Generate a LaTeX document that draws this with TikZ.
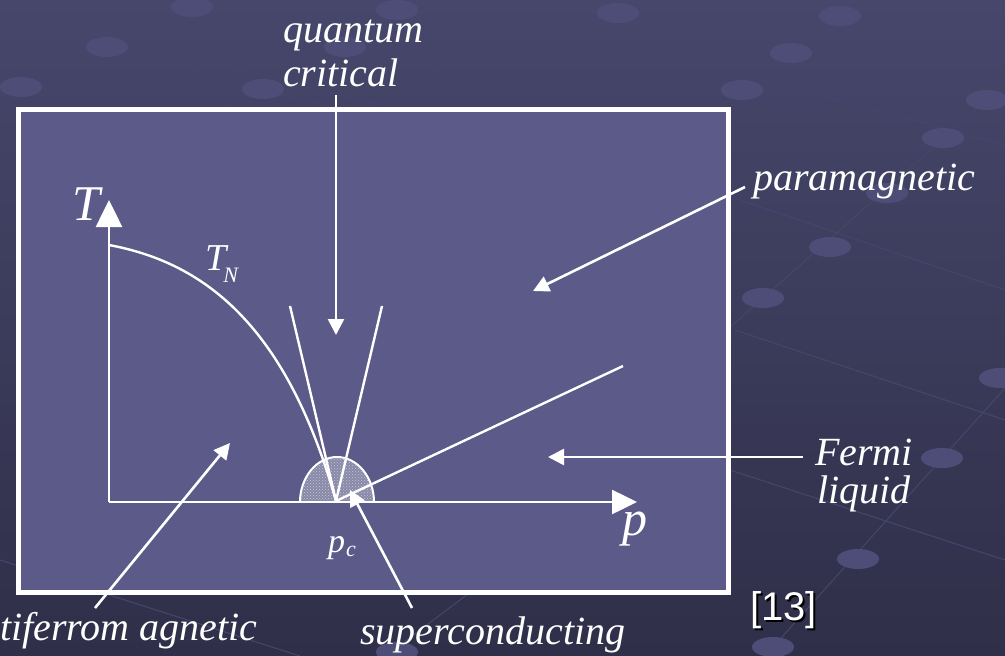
\documentclass[tikz,border=0pt]{standalone}
\usepackage{fontspec}
\setmainfont{Liberation Serif}
\newfontfamily\arialfont{Liberation Sans}
\usetikzlibrary{arrows.meta,patterns}
\definecolor{boxfill}{HTML}{5B5A89}
\definecolor{bgtop}{HTML}{47476C}
\definecolor{bgbot}{HTML}{2F2F49}
\definecolor{dotc}{HTML}{4D4D77}
\definecolor{latline}{HTML}{46466C}
\definecolor{domefill}{HTML}{8888A8}
\definecolor{domedot}{HTML}{C8C8DA}
\begin{document}
\begin{tikzpicture}[x=1pt,y=-1pt,
  lbl/.style={text=white,inner sep=0pt,anchor=base west,font=\fontsize{40}{44}\selectfont\itshape},
  wline/.style={white,line width=2.6pt},
  warrow/.style={wline,-{Triangle[length=16pt,width=16pt]}},
  lat/.style={latline,line width=1pt},
  dotell/.style={fill=dotc}]
\useasboundingbox (0,0) rectangle (1005,656);
\shade[top color=bgtop,bottom color=bgbot] (0,0) rectangle (1005,656);
% background lattice
\draw[lat] (-10,102) -- (215,-4);
\draw[lat] (220,111) -- (440,-2);
\draw[lat] (720,107) -- (870,-7);
\draw[lat] (728,329) -- (1005,84);
\draw[lat] (765,656) -- (1005,388);
\draw[lat] (380,660) -- (480,585);
\draw[lat] (0,12) -- (380,105);
\draw[lat] (60,35) -- (330,107);
\draw[lat] (150,-4) -- (520,93);
\draw[lat] (745,75) -- (1005,145);
\draw[lat] (740,200) -- (1005,290);
\draw[lat] (735,330) -- (1005,420);
\draw[lat] (730,470) -- (1005,560);
\draw[lat] (0,560) -- (300,656);
\foreach \px/\py in {192/7,107/47,21/87,263/89,345/47,397/10,618/13,840/16,791/53,742/90,987/100,943/138,887/193,830/247,763/298,1000/378,942/458,858/559,773/647,397/652}
  \fill[dotell] (\px,\py) ellipse [x radius=21pt,y radius=10pt];
% main box
\draw[white,line width=5pt,fill=boxfill] (18,109) rectangle (728,592);
% dome (superconducting region)
\fill[domefill] (300,502) .. controls (300,477) and (317,457) .. (337,457) .. controls (357,457) and (374,477) .. (374,502) -- cycle;
\fill[pattern=crosshatch dots,pattern color=domedot] (300,502) .. controls (300,477) and (317,457) .. (337,457) .. controls (357,457) and (374,477) .. (374,502) -- cycle;
\draw[white,line width=2pt] (300,502) .. controls (300,477) and (317,457) .. (337,457) .. controls (357,457) and (374,477) .. (374,502);
% coordinates
\coordinate (O) at (109,502);
\coordinate (Ttip) at (109,200);
\coordinate (ptip) at (637,502);
\coordinate (qcp) at (336,501);
\coordinate (TNs) at (109,245);
\coordinate (fanL) at (290,306);
\coordinate (fanR) at (382,306);
\coordinate (xover) at (623,366);
\coordinate (qcS) at (336,95);
\coordinate (qcE) at (336,335);
\coordinate (pmS) at (745,187);
\coordinate (pmE) at (533,291);
\coordinate (flS) at (803,457);
\coordinate (flE) at (548,457);
\coordinate (afS) at (95,608);
\coordinate (afE) at (230,443);
\coordinate (scS) at (412,608);
\coordinate (scE) at (350,490);
% axes
\draw[wline,-{Triangle[length=27pt,width=26pt]}] (O) -- (Ttip);
\draw[wline,-{Triangle[length=25pt,width=24pt]}] (O) -- (ptip);
% phase lines
\draw[wline,line width=2.4pt] (TNs) .. controls (200,262) and (285,320) .. (qcp);
\draw[wline,line width=2.4pt] (fanL) -- (qcp);
\draw[wline,line width=2.4pt] (fanR) -- (qcp);
\draw[wline,line width=2.4pt] (xover) -- (qcp);
% label arrows
\draw[warrow] (qcS) -- (qcE);
\draw[warrow] (pmS) -- (pmE);
\draw[warrow] (flS) -- (flE);
\draw[warrow] (afS) -- (afE);
\draw[warrow] (scS) -- (scE);
% texts
\node[lbl] (quantum) at (283,42) {quantum};
\node[lbl] (critical) at (283,86) {critical};
\node[lbl] (para) at (753,190) {paramagnetic};
\node[lbl,anchor=base] (fermi) at (864,465) {Fermi};
\node[lbl,anchor=base] (liquid) at (864,503) {liquid};
\node[lbl] (af) at (-40,640) {antiferrom agnetic};
\node[lbl] (sc) at (360,644) {superconducting};
\node[lbl,font=\fontsize{50}{50}\selectfont\itshape] (T) at (72,220) {T};
\node[lbl,font=\fontsize{38}{38}\selectfont\itshape] (TN) at (205,270) {T\kern-3pt\raisebox{-12pt}{\fontsize{22}{22}\selectfont N}};
\node[lbl,font=\fontsize{34}{34}\selectfont\itshape] (pc) at (328,552) {p\kern1pt\raisebox{-4pt}{\fontsize{22}{22}\selectfont c}};
\node[lbl,font=\fontsize{50}{50}\selectfont\itshape] (p) at (622,535) {p};
\node[anchor=base west,inner sep=0pt,text=black,font=\arialfont\fontsize{40}{40}\selectfont] (refsh) at (752,622) {[13]};
\node[anchor=base west,inner sep=0pt,text=white,font=\arialfont\fontsize{40}{40}\selectfont] (ref) at (750,620) {[13]};
\end{tikzpicture}
\end{document}
